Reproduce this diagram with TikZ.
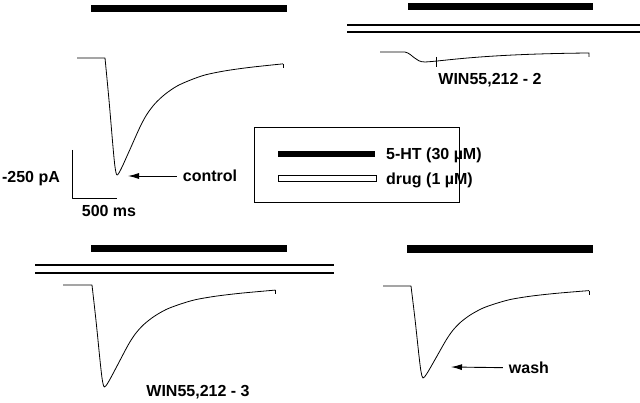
\documentclass[tikz,border=0pt]{standalone}
\usepackage{fontspec}
\setmainfont{Liberation Sans}
\usetikzlibrary{arrows.meta}
\tikzset{
  lbl/.style={font=\bfseries\fontsize{16}{18}\selectfont,inner sep=0},
  trace/.style={line width=0.8pt,line join=round},
  drugline/.style={line width=1.3pt},
  pointer/.style={line width=0.9pt,-{Latex[length=11pt,width=6pt]},shorten <=6pt},
}
\newcommand{\drawlabel}{\node[lbl]}
\newcommand{\drawbar}{\fill[black]}
\newcommand{\drawdummy}{\coordinate}
% #1 name, #2 #3 onset, #4 depth, #5 xscale
\newcommand{\drawtrace}[5]{%
  \begin{scope}[shift={(#2,#3)},xscale=#5,yscale=#4]
    \draw[trace] (-28,0) -- plot[smooth,tension=0.5] coordinates {(0,0) (4,0.36)
      (8,0.76) (10,0.93) (12,1.0) (16,0.95) (24,0.80) (35,0.59) (42,0.48)
      (50,0.39) (60,0.31) (72,0.24) (85,0.19) (100,0.145) (120,0.11)
      (145,0.08) (178,0.05)};
    \drawdummy (#1end) at (178,0.05);
    \drawdummy (#1min) at (12,1);
  \end{scope}
  \draw[trace] (#1end) -- ++(0,4);}

\begin{document}
\begin{tikzpicture}[x=1pt,y=-1pt]
\useasboundingbox (0,0) rectangle (640,403);

%control
\drawbar (91,5) rectangle (287,12);
\drawtrace{ctl}{105}{58}{117}{1}
\drawdummy (ctltip) at (128,176);
\drawlabel (ctllab) at (210,176) {control};
\draw[pointer] (ctllab) -- (ctltip);

%scale bar
\drawdummy (sbtop) at (72,150);
\drawdummy (sbcorner) at (72,198);
\drawdummy (sbright) at (117,198);
\draw[trace] (sbtop) -- (sbcorner) -- (sbright);
\drawlabel (ylab) at (31,179) {-250 pA};
\drawlabel (xlab) at (109,211) {500 ms};

%WIN55,212-2
\drawbar (408,3) rectangle (593,10);
\drawdummy (w2a) at (347,25);
\drawdummy (w2b) at (640,25);
\drawdummy (w2c) at (347,32);
\drawdummy (w2d) at (640,32);
\draw[drugline] (w2a) -- (w2b);
\draw[drugline] (w2c) -- (w2d);
\draw[trace] (380,52) -- (405,52) .. controls (413,54) and (415,62) .. (425,62)
  .. controls (445,61) and (480,54) .. (589,53) -- (589,57);
\draw[trace] (436,57) -- (436,67);
\drawlabel (w2lab) at (490,80) {WIN55,212 - 2};

%legend
\draw[line width=1pt] (254,128) rectangle (459,203);
\drawbar (278,151) rectangle (375,157);
\draw[line width=1pt] (278,176) rectangle (376,182);
\drawlabel[anchor=west] (htlab) at (386,155) {5-HT (30 µM)};
\drawlabel[anchor=west] (druglab) at (386,180) {drug (1 µM)};

%WIN55,212-3
\drawbar (91,245) rectangle (287,252);
\drawdummy (w3a) at (35,265);
\drawdummy (w3b) at (334,265);
\drawdummy (w3c) at (35,273);
\drawdummy (w3d) at (334,273);
\draw[drugline] (w3a) -- (w3b);
\draw[drugline] (w3c) -- (w3d);
\drawtrace{w3}{92}{285}{102}{1.03}
\drawlabel (w3lab) at (198,392) {WIN55,212 - 3};

%wash
\drawbar (407,245) rectangle (593,253);
\drawtrace{wsh}{411}{286}{92}{1}
\drawdummy (wshtip) at (451,367);
\drawlabel (wshlab) at (529,368) {wash};
\draw[pointer] (wshlab) -- (wshtip);

\end{tikzpicture}
\end{document}
